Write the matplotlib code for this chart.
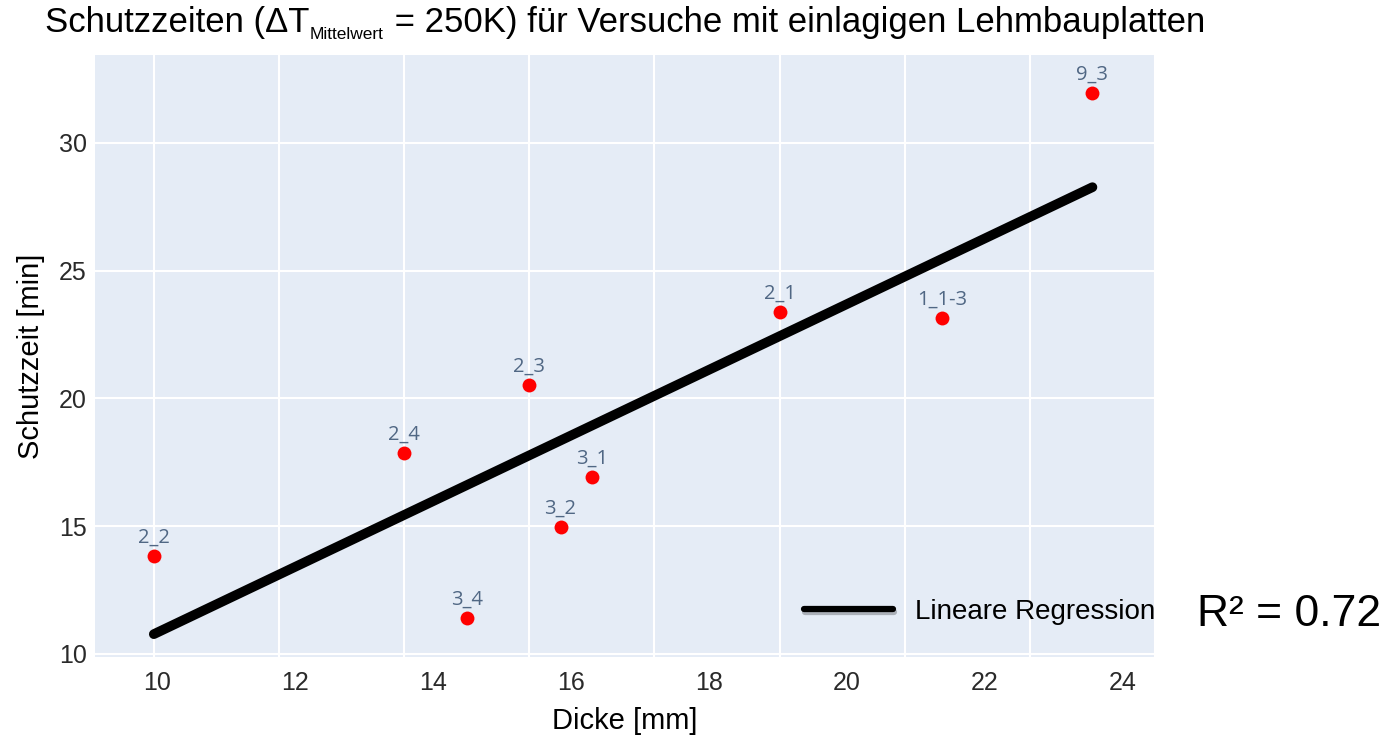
## Schutzzeiten Lehmbauplatten - Nachbau
import matplotlib
matplotlib.use('Agg')
import matplotlib.pyplot as plt
import matplotlib.patheffects as pe
import numpy as np

## Daten
namen = ['2_2', '2_4', '3_4', '2_3', '3_2', '3_1', '2_1', '1_1-3', '9_3']
dicke = [10, 14, 15, 16, 16.5, 17, 20, 22.6, 25]            # mm
zeit = [13.84, 17.87, 11.41, 20.53, 14.97, 16.93, 23.39, 23.15, 31.96]  # min
x_ticks = [10, 12, 14, 16, 18, 20, 22, 24]
y_ticks = [10, 15, 20, 25, 30]
r2_text = 'R² = 0.72'

plt.rcParams['font.family'] = ['Liberation Sans', 'DejaVu Sans']

fig = plt.figure(figsize=(13.9, 7.41), dpi=100)
W, H = 1390, 741
ax = fig.add_axes([95 / W, 1 - 657 / H, (1155 - 95) / W, (657 - 55) / H])
ax.set_facecolor('#E5ECF6')
for s in ax.spines.values():
    s.set_visible(False)

ax.set_xlim(9.06, 25.93)
ax.set_ylim(9.88, 33.44)

# Gitter im Datenmaßstab
ax.set_xticks(np.arange(10, 27, 2))
ax.set_yticks(y_ticks)
ax.grid(True, color='white', linewidth=1.5)
ax.set_axisbelow(True)
ax.tick_params(axis='x', length=0, labelbottom=False)
ax.tick_params(axis='y', length=0, labelsize=18, labelcolor='#2a2a2a', pad=6)

# Beschriftung der x-Achse ist im Original gestreckt
sec = ax.secondary_xaxis('bottom', functions=(lambda p: 10 + (p - 10.05) / 1.102,
                                              lambda v: 10.05 + (v - 10) * 1.102))
sec.set_xticks(x_ticks)
sec.tick_params(length=0, labelsize=18, labelcolor='#2a2a2a', pad=10)
for s in sec.spines.values():
    s.set_visible(False)
sec.set_xlabel('Dicke [mm]', fontsize=21, labelpad=9)
ax.set_ylabel('Schutzzeit [min]', fontsize=21, labelpad=10)

# Messpunkte
ax.scatter(dicke, zeit, s=100, color='red', zorder=3, linewidths=0)
for n, xv, yv in zip(namen, dicke, zeit):
    ax.annotate(n, (xv, yv), xytext=(0, 6), textcoords='offset points',
                ha='center', va='bottom', fontsize=14.5, color='#506784',
                family=['Open Sans', 'DejaVu Sans'])

# Lineare Regression
m, b = np.polyfit(dicke, zeit, 1)
xs = np.array([min(dicke), max(dicke)])
ax.plot(xs, m * xs + b, color='black', linewidth=7, solid_capstyle='round',
        label='Lineare Regression', zorder=2)

leg = ax.legend(loc='center right', bbox_to_anchor=(1.0, 0.075), frameon=False,
                fontsize=20, handlelength=3.2, handletextpad=0.8,
                borderpad=0, borderaxespad=0)
for ln in leg.get_lines():
    ln.set_linewidth(4.5)
    ln.set_path_effects([pe.SimpleLineShadow(offset=(1, -2), alpha=0.25), pe.Normal()])

fig.text(1197 / W, 1 - 614 / H, r2_text, fontsize=32, va='center', ha='left')

# Titel mit kleinem Index
t1 = fig.text(45 / W, 1 - 32 / H, 'Schutzzeiten (ΔT', fontsize=25, va='baseline')
t2 = ax.annotate('Mittelwert', xy=(1, 0), xycoords=t1, xytext=(0.5, -2),
                 textcoords='offset points', fontsize=12.5, va='bottom', ha='left')
t3 = ax.annotate(' = 250K) für Versuche mit einlagigen Lehmbauplatten', xy=(1, 0),
                 xycoords=(t2, t1), xytext=(1, 0), textcoords='offset points',
                 fontsize=25, va='bottom', ha='left')

fig.savefig('out.png', dpi=100)
